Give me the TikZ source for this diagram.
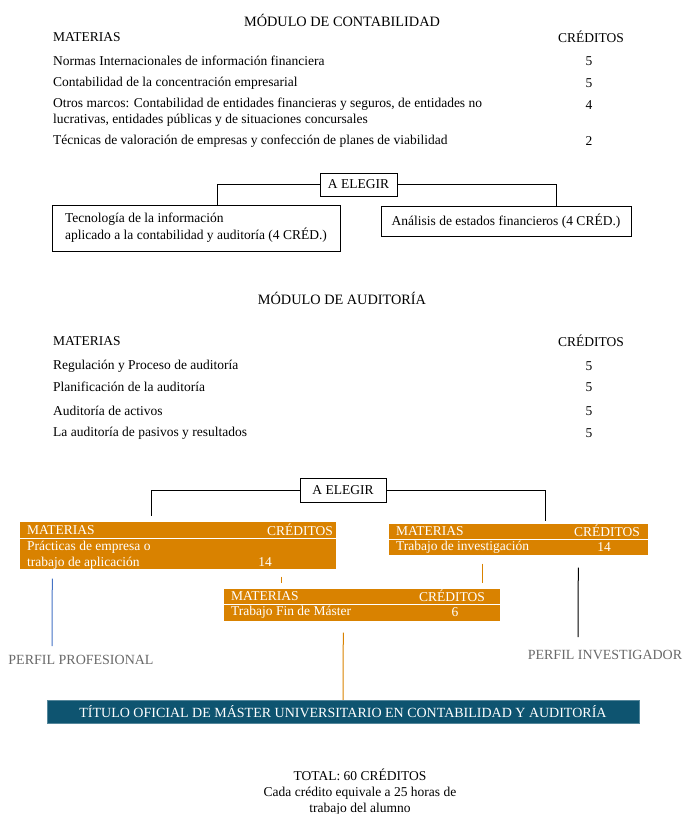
\documentclass[tikz,border=0pt]{standalone}
\usepackage{fontspec}
\setmainfont{Liberation Serif}
\definecolor{naranja}{RGB}{217,130,0}
\definecolor{azultit}{RGB}{14,84,112}
\definecolor{azullin}{RGB}{68,114,196}
\definecolor{grisperf}{RGB}{105,105,105}
\tikzset{
  txt/.style = {inner sep=0pt, anchor=west},
  txtr/.style = {inner sep=0pt, anchor=east},
  num/.style = {inner sep=0pt},
  elegir/.style = {draw, line width=1pt, inner sep=0pt},
  caja/.style = {draw, line width=1pt, inner sep=0pt},
  orow/.style = {fill=naranja, draw=white, line width=0.6pt, inner sep=0pt, anchor=north west},
  otxt/.style = {txt, text=white},
  otxtr/.style = {txtr, text=white},
  perfil/.style = {inner sep=0pt, text=grisperf, font=\fontsize{14}{16}\selectfont},
}
\begin{document}
\begin{tikzpicture} [x=1pt, y=-1pt, font=\fontsize{13.5}{15.5}\selectfont]
	\useasboundingbox (0,0) rectangle (683,814);
	% modulo de contabilidad
	\node [num, font=\fontsize{14.3}{16}\selectfont] (modcont) at (342,20) {MÓDULO DE CONTABILIDAD};
	\node [txt] (matc) at (53,37) {MATERIAS};
	\node [txtr] (credc) at (624,37) {CRÉDITOS};
	\node [txt] (c1) at (53,61) {Normas Internacionales de información financiera};
	\node [num] (c1n) at (589,61) {5};
	\node [txt] (c2) at (53,83) {Contabilidad de la concentración empresarial};
	\node [num] (c2n) at (589,83) {5};
	\node [txt, align=left] (c3) at (53,112) {Otros marcos: Contabilidad de entidades financieras y seguros, de entidades no\\lucrativas, entidades públicas y de situaciones concursales};
	\node [num] (c3n) at (589,105) {4};
	\node [txt] (c4) at (53,141) {Técnicas de valoración de empresas y confección de planes de viabilidad};
	\node [num] (c4n) at (589,141) {2};
	% optativas contabilidad
	\node [elegir, minimum width=77, minimum height=23] (elegir1) at (358.5,184.5) {A ELEGIR};
	\node [caja, minimum width=288, minimum height=46, align=left, font=\fontsize{13.5}{17}\selectfont] (tecno) at (196,228) {Tecnología de la información\\aplicado a la contabilidad y auditoría (4 CRÉD.)};
	\node [caja, minimum width=250, minimum height=30] (analisis) at (506,221) {Análisis de estados financieros (4 CRÉD.)};
	\draw [line width=1pt] (elegir1.west) -| ([xshift=21]tecno.north);
	\draw [line width=1pt] (elegir1.east) -| ([xshift=50]analisis.north);
	% modulo de auditoria
	\node [num, font=\fontsize{14.3}{16}\selectfont] (modaud) at (342,298) {MÓDULO DE AUDITORÍA};
	\node [txt] (mata) at (53,341) {MATERIAS};
	\node [txtr] (creda) at (624,341) {CRÉDITOS};
	\node [txt] (a1) at (53,366) {Regulación y Proceso de auditoría};
	\node [num] (a1n) at (589,366) {5};
	\node [txt] (a2) at (53,387) {Planificación de la auditoría};
	\node [num] (a2n) at (589,387) {5};
	\node [txt] (a3) at (53,411) {Auditoría de activos};
	\node [num] (a3n) at (589,411) {5};
	\node [txt] (a4) at (53,433) {La auditoría de pasivos y resultados};
	\node [num] (a4n) at (589,433) {5};
	% perfiles
	\node [elegir, minimum width=86, minimum height=24] (elegir2) at (343,490) {A ELEGIR};
	\node [orow, minimum width=317, minimum height=17] (profH) at (19,521) {};
	\node [orow, minimum width=317, minimum height=31] (profB) at (19,538) {};
	\node [otxt] (profM) at (27,530) {MATERIAS};
	\node [otxtr] (profC) at (333,530) {CRÉDITOS};
	\node [otxt, align=left] (prof) at (27,555) {Prácticas de empresa o\\trabajo de aplicación};
	\node [num, text=white] (profN) at (265,562) {14};
	\node [orow, minimum width=260, minimum height=16] (invH) at (388,523) {};
	\node [orow, minimum width=260, minimum height=16] (invB) at (388,539) {};
	\node [otxt] (invM) at (396,531) {MATERIAS};
	\node [otxtr] (invC) at (640,531) {CRÉDITOS};
	\node [otxt] (inv) at (396,547) {Trabajo de investigación};
	\node [num, text=white] (invN) at (604,547) {14};
	\node [orow, minimum width=277, minimum height=16] (tfmH) at (223,588) {};
	\node [orow, minimum width=277, minimum height=17] (tfmB) at (223,604) {};
	\node [otxt] (tfmM) at (231,596) {MATERIAS};
	\node [otxtr] (tfmC) at (485,596) {CRÉDITOS};
	\node [otxt] (tfm) at (231,612) {Trabajo Fin de Máster};
	\node [num, text=white] (tfmN) at (455,612) {6};
	\draw [line width=1pt] (elegir2.west) -| ([xshift=-26.5,yshift=5]profH.north);
	\draw [line width=1pt] (elegir2.east) -| ([xshift=27,yshift=2]invH.north);
	\draw [naranja, line width=1pt] ([xshift=103.5,yshift=-7]profB.south) -- ([xshift=-80.5,yshift=5]tfmH.north);
	\draw [naranja, line width=1pt] ([xshift=-36,yshift=-8]invB.south) -- ([xshift=120.5,yshift=5]tfmH.north);
	\node [perfil] (perfP) at (81,660) {PERFIL PROFESIONAL};
	\node [perfil] (perfI) at (605,655) {PERFIL INVESTIGADOR};
	\draw [azullin, line width=1pt] ([xshift=-125.5,yshift=-9]profB.south) -- ([xshift=-29,yshift=9]perfP.north);
	\draw [line width=1pt] ([xshift=60,yshift=-12]invB.south) -- ([xshift=-27,yshift=13]perfI.north);
	% titulo
	\node [fill=azultit, draw=azultit!70, text=white, minimum width=592, minimum height=23, inner sep=0pt, font=\fontsize{14}{16}\selectfont] (titulo) at (343,711.5) {TÍTULO OFICIAL DE MÁSTER UNIVERSITARIO EN CONTABILIDAD Y AUDITORÍA};
	\draw [naranja, line width=1pt] ([xshift=-18.5,yshift=-11]tfmB.south) -- (titulo.north);
	\node [num, align=center, font=\fontsize{13.5}{16}\selectfont] (total) at (360,792) {TOTAL: 60 CRÉDITOS\\Cada crédito equivale a 25 horas de\\trabajo del alumno};
\end{tikzpicture}
\end{document}
